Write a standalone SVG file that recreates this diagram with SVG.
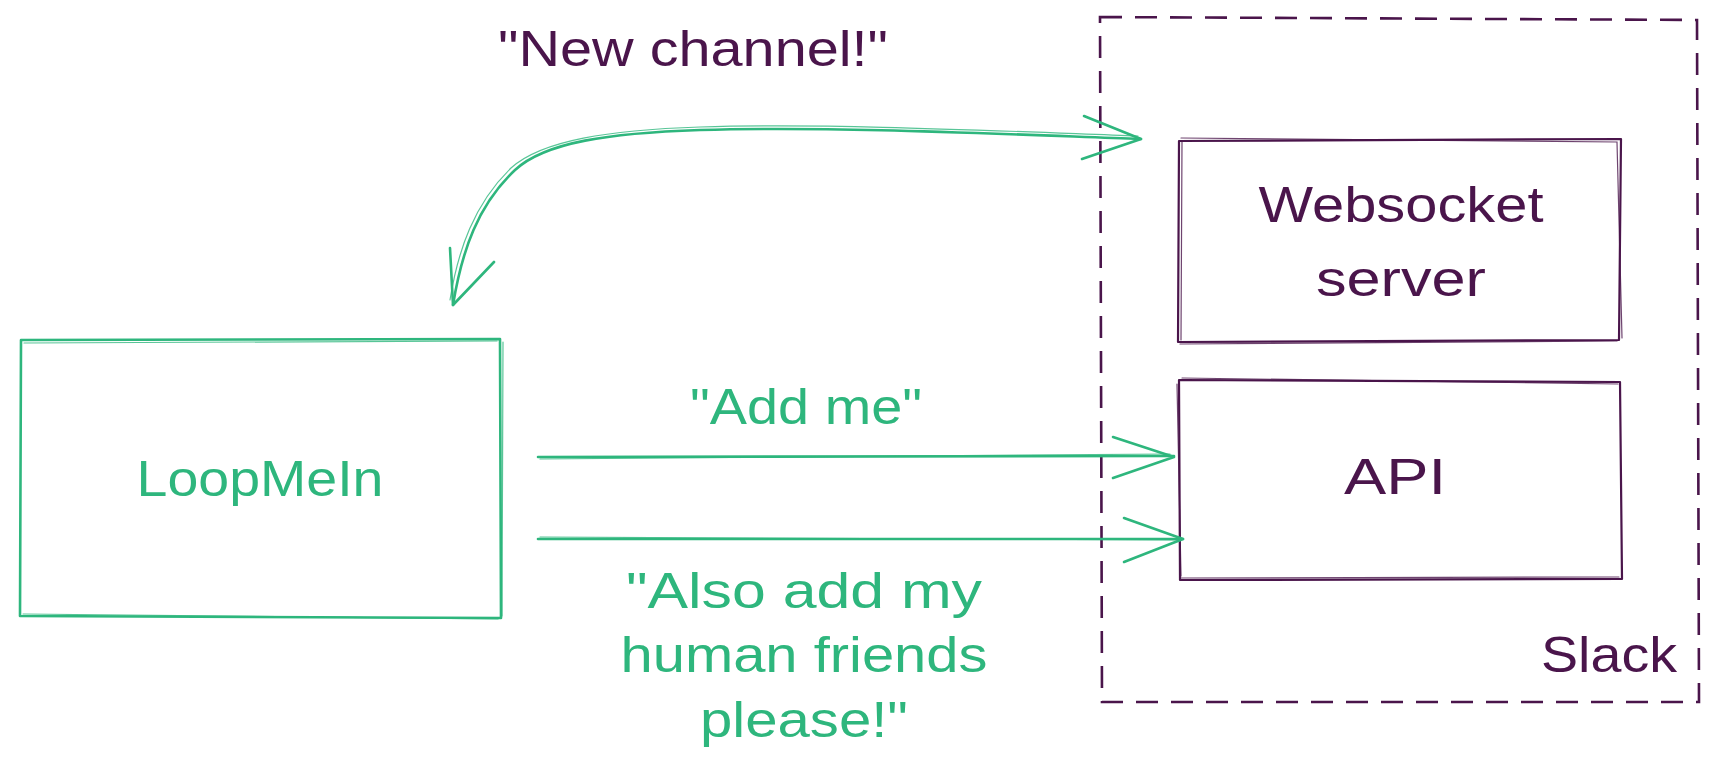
<svg xmlns="http://www.w3.org/2000/svg" width="1720" height="778" viewBox="0 0 1720 778">
<style>
  .g { fill: none; stroke: #2eb67d; stroke-width: 2.6; stroke-linecap: round; stroke-linejoin: round; }
  .gt { fill: none; stroke: #2eb67d; stroke-width: 1.2; stroke-linecap: round; opacity: 0.8; }
  .p { fill: none; stroke: #4a154b; stroke-width: 2.2; stroke-linecap: round; stroke-linejoin: round; }
  .pt { fill: none; stroke: #4a154b; stroke-width: 1.2; stroke-linecap: round; opacity: 0.8; }
  .dash { fill: none; stroke: #4a154b; stroke-width: 2.6; stroke-dasharray: 22 13; }
  .tg { fill: #2eb67d; font-family: "Liberation Sans", Arial, sans-serif; font-size: 50px; text-anchor: middle; }
  .tp { fill: #4a154b; font-family: "Liberation Sans", Arial, sans-serif; font-size: 50px; text-anchor: middle; }
</style>
<rect width="1720" height="778" fill="#ffffff"/>

<g id="slack">
  <path class="dash" d="M1100 17 L1697 20 L1699 702 L1102 702 Z"/>
  <text class="tp" x="1609" y="672" textLength="136" lengthAdjust="spacingAndGlyphs">Slack</text>
</g>

<g id="websocket-server">
  <path class="p" d="M1179 141 L1621 139 L1619 340 L1178 342 Z"/>
  <path class="pt" d="M1181 138 L1617 142 L1622 338 M1180 344 L1617 341 M1182 142 L1181 340"/>
  <text class="tp" x="1401" y="222" textLength="285" lengthAdjust="spacingAndGlyphs">Websocket</text>
  <text class="tp" x="1401" y="296" textLength="170" lengthAdjust="spacingAndGlyphs">server</text>
</g>

<g id="api">
  <path class="p" d="M1179 380 L1620 382 L1622 579 L1180 580 Z"/>
  <path class="pt" d="M1182 378 L1618 384 M1181 578 L1619 577 M1177 384 L1181 576"/>
  <text class="tp" x="1395" y="494" textLength="102" lengthAdjust="spacingAndGlyphs">API</text>
</g>

<g id="loopmein">
  <path class="g" d="M21 340 L500 339 L501 618 L20 616 Z"/>
  <path class="gt" d="M24 343 L497 341 M23 614 L498 619 M503 342 L502 616"/>
  <text class="tg" x="260" y="496" textLength="247" lengthAdjust="spacingAndGlyphs">LoopMeIn</text>
</g>

<g id="connectors">
  <!-- New channel! double-headed curve -->
  <path class="g" d="M1141 139 C 1000 134 830 126 700 130 C 610 133 545 142 515 170 C 478 205 462 250 453 305"/>
  <path class="gt" d="M1138 136 C 1000 131 830 123 700 127 C 610 130 542 140 511 168 C 474 204 458 250 450 300"/>
  <path class="g" d="M1084 116 L1141 139 L1082 159"/>
  <path class="g" d="M450 248 L453 305 L494 262"/>

  <!-- Add me -->
  <path class="g" d="M538 457 L1174 456"/>
  <path class="gt" d="M540 459 L1170 454"/>
  <path class="g" d="M1113 437 L1174 457 L1113 478"/>

  <!-- Also add my human friends please! -->
  <path class="g" d="M538 539 L1183 539"/>
  <path class="gt" d="M540 537 L1180 540"/>
  <path class="g" d="M1124 518 L1183 539 L1124 562"/>
</g>

<g id="labels">
  <text class="tp" x="693" y="66" textLength="390" lengthAdjust="spacingAndGlyphs">"New channel!"</text>
  <text class="tg" x="806" y="424" textLength="232" lengthAdjust="spacingAndGlyphs">"Add me"</text>
  <text class="tg" x="804" y="608" textLength="356" lengthAdjust="spacingAndGlyphs">"Also add my</text>
  <text class="tg" x="804" y="672" textLength="367" lengthAdjust="spacingAndGlyphs">human friends</text>
  <text class="tg" x="804" y="737" textLength="208" lengthAdjust="spacingAndGlyphs">please!"</text>
</g>
</svg>
